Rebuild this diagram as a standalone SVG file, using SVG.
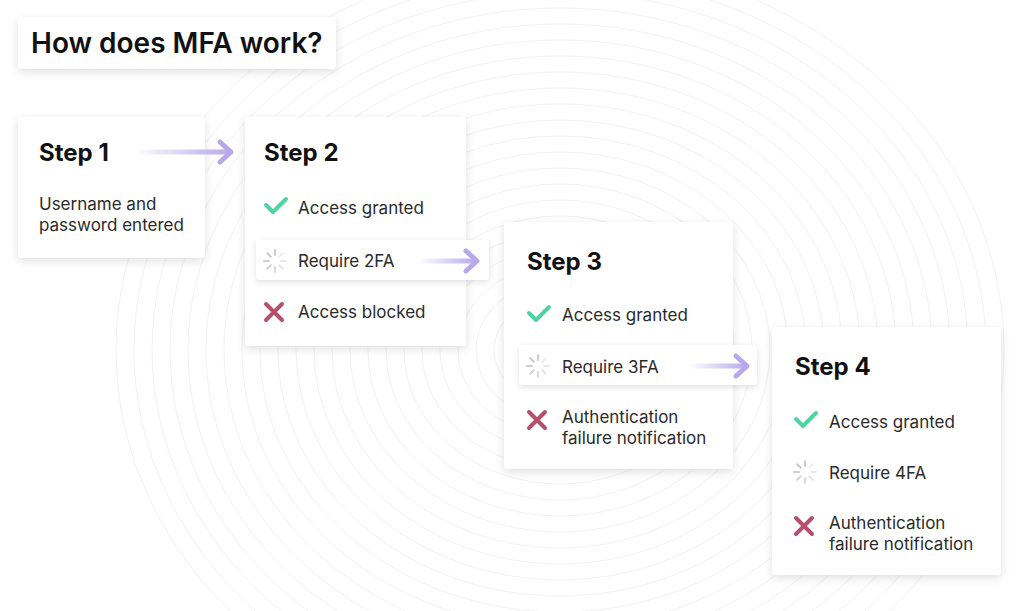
<svg xmlns="http://www.w3.org/2000/svg" width="1024" height="611" viewBox="0 0 1024 611">
<defs>
<style>
.card{fill:#ffffff;filter:url(#sh)}
.sub{fill:#ffffff;filter:url(#sh2)}
.h{font-family:Inter,"Open Sans","Liberation Sans",sans-serif;font-weight:700;font-size:24px;fill:#111111}
.t{font-family:Inter,"Open Sans","Liberation Sans",sans-serif;font-weight:400;font-size:17px;fill:#2a2a2a}
.ck{fill:none;stroke:#4fd3a1;stroke-width:4;stroke-linecap:round;stroke-linejoin:round}
.x{fill:none;stroke:#b4506c;stroke-width:4;stroke-linecap:round}
.sp{stroke:#c9c9c9;stroke-width:2;stroke-linecap:round}
.bg{fill:none;stroke:#f2f2f2;stroke-width:1}
.ah{fill:none;stroke:#b6a8ea;stroke-width:5;stroke-linecap:round;stroke-linejoin:round}
</style>
<filter id="sh" x="-20%" y="-20%" width="140%" height="150%">
<feDropShadow dx="0" dy="3" stdDeviation="5" flood-color="#000000" flood-opacity="0.12"/>
</filter>
<filter id="sh2" x="-20%" y="-40%" width="140%" height="190%">
<feDropShadow dx="0" dy="2" stdDeviation="3" flood-color="#000000" flood-opacity="0.12"/>
</filter>
<linearGradient id="ag" x1="0" y1="0" x2="1" y2="0">
<stop offset="0" stop-color="#b6a8ea" stop-opacity="0"/>
<stop offset="1" stop-color="#b6a8ea" stop-opacity="1"/>
</linearGradient>
<g id="spin">
<line class="sp" x1="0" y1="-11" x2="0" y2="-6" opacity="0.9"/>
<line class="sp" x1="7.8" y1="-7.8" x2="4.2" y2="-4.2" opacity="0.3"/>
<line class="sp" x1="11" y1="0" x2="6" y2="0" opacity="0.4"/>
<line class="sp" x1="7.8" y1="7.8" x2="4.2" y2="4.2" opacity="0.5"/>
<line class="sp" x1="0" y1="11" x2="0" y2="6" opacity="0.7"/>
<line class="sp" x1="-7.8" y1="7.8" x2="-4.2" y2="4.2" opacity="0.8"/>
<line class="sp" x1="-11" y1="0" x2="-6" y2="0" opacity="0.9"/>
<line class="sp" x1="-7.8" y1="-7.8" x2="-4.2" y2="-4.2" opacity="1"/>
</g>
<path id="chk" class="ck" d="M-10,-1 L-3,6 L10,-7"/>
<path id="xx" class="x" d="M-8,-8 L8,8 M8,-8 L-8,8"/>
</defs>
<rect width="1024" height="611" fill="#ffffff"/>
<g id="background">
<ellipse class="bg" cx="560" cy="350" rx="30" ry="22"/>
<ellipse class="bg" cx="560" cy="350" rx="48" ry="38"/>
<ellipse class="bg" cx="560" cy="350" rx="66" ry="54"/>
<ellipse class="bg" cx="560" cy="350" rx="84" ry="70"/>
<ellipse class="bg" cx="560" cy="350" rx="102" ry="86"/>
<ellipse class="bg" cx="560" cy="350" rx="120" ry="102"/>
<ellipse class="bg" cx="560" cy="350" rx="138" ry="118"/>
<ellipse class="bg" cx="560" cy="350" rx="156" ry="134"/>
<ellipse class="bg" cx="560" cy="350" rx="174" ry="150"/>
<ellipse class="bg" cx="560" cy="350" rx="192" ry="166"/>
<ellipse class="bg" cx="560" cy="350" rx="210" ry="182"/>
<ellipse class="bg" cx="560" cy="350" rx="228" ry="198"/>
<ellipse class="bg" cx="560" cy="350" rx="246" ry="214"/>
<ellipse class="bg" cx="560" cy="350" rx="264" ry="230"/>
<ellipse class="bg" cx="560" cy="350" rx="282" ry="246"/>
<ellipse class="bg" cx="560" cy="350" rx="300" ry="262"/>
<ellipse class="bg" cx="560" cy="350" rx="318" ry="278"/>
<ellipse class="bg" cx="560" cy="350" rx="336" ry="294"/>
<ellipse class="bg" cx="560" cy="350" rx="354" ry="310"/>
<ellipse class="bg" cx="560" cy="350" rx="372" ry="326"/>
<ellipse class="bg" cx="560" cy="350" rx="390" ry="342"/>
<ellipse class="bg" cx="560" cy="350" rx="408" ry="358"/>
<ellipse class="bg" cx="560" cy="350" rx="426" ry="374"/>
<ellipse class="bg" cx="560" cy="350" rx="444" ry="390"/>
</g>
<g id="title">
<rect class="card" x="18" y="17" width="318" height="52" rx="4"/>
<text x="31" y="53" class="h" style="font-size:28px;font-weight:600">How does MFA work?</text>
</g>
<g id="step1">
<rect class="card" x="18" y="117" width="187" height="141" rx="4"/>
<text x="39" y="161" class="h">Step 1</text>
<text x="39" y="210" class="t">Username and</text>
<text x="39" y="231" class="t">password entered</text>
</g>
<g id="step2">
<rect class="card" x="245" y="117" width="221" height="229" rx="4"/>
<text x="264" y="161" class="h">Step 2</text>
<use href="#chk" x="276" y="206"/>
<text x="298" y="214" class="t">Access granted</text>
<text x="298" y="318" class="t">Access blocked</text>
<use href="#xx" x="274" y="312"/>
</g>
<g id="step2-require">
<rect class="sub" x="256" y="240" width="233" height="40" rx="4"/>
<use href="#spin" x="275" y="261"/>
<text x="298" y="267" class="t">Require 2FA</text>
</g>
<g id="step3">
<rect class="card" x="504" y="222" width="229" height="247" rx="4"/>
<text x="527" y="270" class="h">Step 3</text>
<use href="#chk" x="539" y="314"/>
<text x="562" y="321" class="t">Access granted</text>
<use href="#xx" x="537" y="420"/>
<text x="562" y="423" class="t">Authentication</text>
<text x="562" y="444" class="t">failure notification</text>
</g>
<g id="step3-require">
<rect class="sub" x="519" y="345" width="238" height="40" rx="4"/>
<use href="#spin" x="538" y="366"/>
<text x="562" y="373" class="t">Require 3FA</text>
</g>
<g id="step4">
<rect class="card" x="772" y="327" width="229" height="248" rx="4"/>
<text x="795" y="375" class="h">Step 4</text>
<use href="#chk" x="806" y="420"/>
<text x="829" y="428" class="t">Access granted</text>
<use href="#spin" x="805" y="472"/>
<text x="829" y="479" class="t">Require 4FA</text>
<use href="#xx" x="804" y="526"/>
<text x="829" y="529" class="t">Authentication</text>
<text x="829" y="550" class="t">failure notification</text>
</g>
<g id="connectors">
<rect x="133" y="149.5" width="98" height="5" fill="url(#ag)"/>
<path class="ah" d="M220,142 L231,152 L220,162"/>
<rect x="418" y="258.5" width="59" height="5" fill="url(#ag)"/>
<path class="ah" d="M466,251 L477,261 L466,271"/>
<rect x="688" y="363.5" width="59" height="5" fill="url(#ag)"/>
<path class="ah" d="M736,356 L747,366 L736,376"/>
</g>
</svg>
